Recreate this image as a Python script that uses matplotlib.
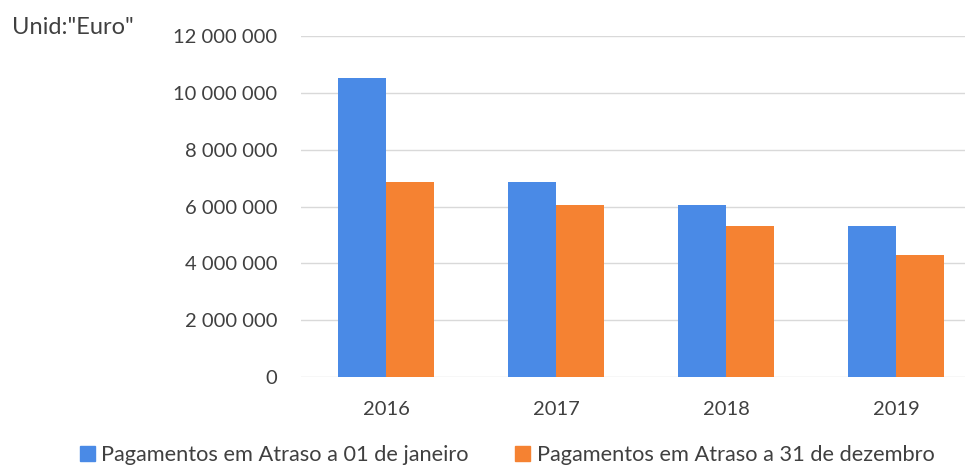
import matplotlib
matplotlib.use("Agg")
import matplotlib.pyplot as plt
import matplotlib.ticker as mticker
from matplotlib.patches import Patch
import numpy as np

# ── Data ──────────────────────────────────────────────────────────────────────

years     = ["2016", "2017", "2018", "2019"]
jan_01    = [10530000, 6850000, 6050000, 5300000]   # Pagamentos em Atraso a 01 de janeiro
dec_31    = [6850000, 6050000, 5300000, 4280000]    # Pagamentos em Atraso a 31 de dezembro
label_jan = "Pagamentos em Atraso a 01 de janeiro"
label_dec = "Pagamentos em Atraso a 31 de dezembro"

BLUE   = "#4A8AE6"
ORANGE = "#F58232"
TEXT   = "#404040"
GRID   = "#D9D9D9"

plt.rcParams["font.family"] = ["Lato", "DejaVu Sans"]

W, H = 965, 470
fig = plt.figure(figsize=(W / 100, H / 100), dpi=100)
ax = fig.add_axes([301 / W, 93 / H, 680 / W, 341 / H])

x = np.arange(len(years))
bw = 0.283
ax.bar(x - bw / 2, jan_01, width=bw, color=BLUE, label=label_jan, zorder=3)
ax.bar(x + bw / 2, dec_31, width=bw, color=ORANGE, label=label_dec, zorder=3)

ax.set_xlim(-0.5, len(years) - 0.5)
ax.set_ylim(0, 12000000)
ax.set_yticks(np.arange(0, 12000001, 2000000))
ax.yaxis.set_major_formatter(
    mticker.FuncFormatter(lambda v, p: f"{int(v):,}".replace(",", " ")))
ax.set_xticks(x)
ax.set_xticklabels(years)

ax.grid(axis="y", color=GRID, linewidth=1, zorder=0)
for s in ax.spines.values():
    s.set_visible(False)
ax.tick_params(axis="both", length=0, colors=TEXT, labelsize=14.5)
ax.tick_params(axis="y", pad=17)
ax.tick_params(axis="x", pad=17)

fig.text(12 / W, 1 - 28 / H, 'Unid:"Euro"', fontsize=17, color=TEXT,
         ha="left", va="center")

handles = [Patch(color=BLUE), Patch(color=ORANGE)]
fig.legend(handles, [label_jan, label_dec], loc="center",
           bbox_to_anchor=(507 / W, 1 - 455 / H), ncol=2, frameon=False,
           fontsize=15.7, handlelength=0.7, handleheight=0.7,
           handletextpad=0.3, columnspacing=2.1, labelcolor=TEXT)

fig.savefig("out.png", dpi=100)
